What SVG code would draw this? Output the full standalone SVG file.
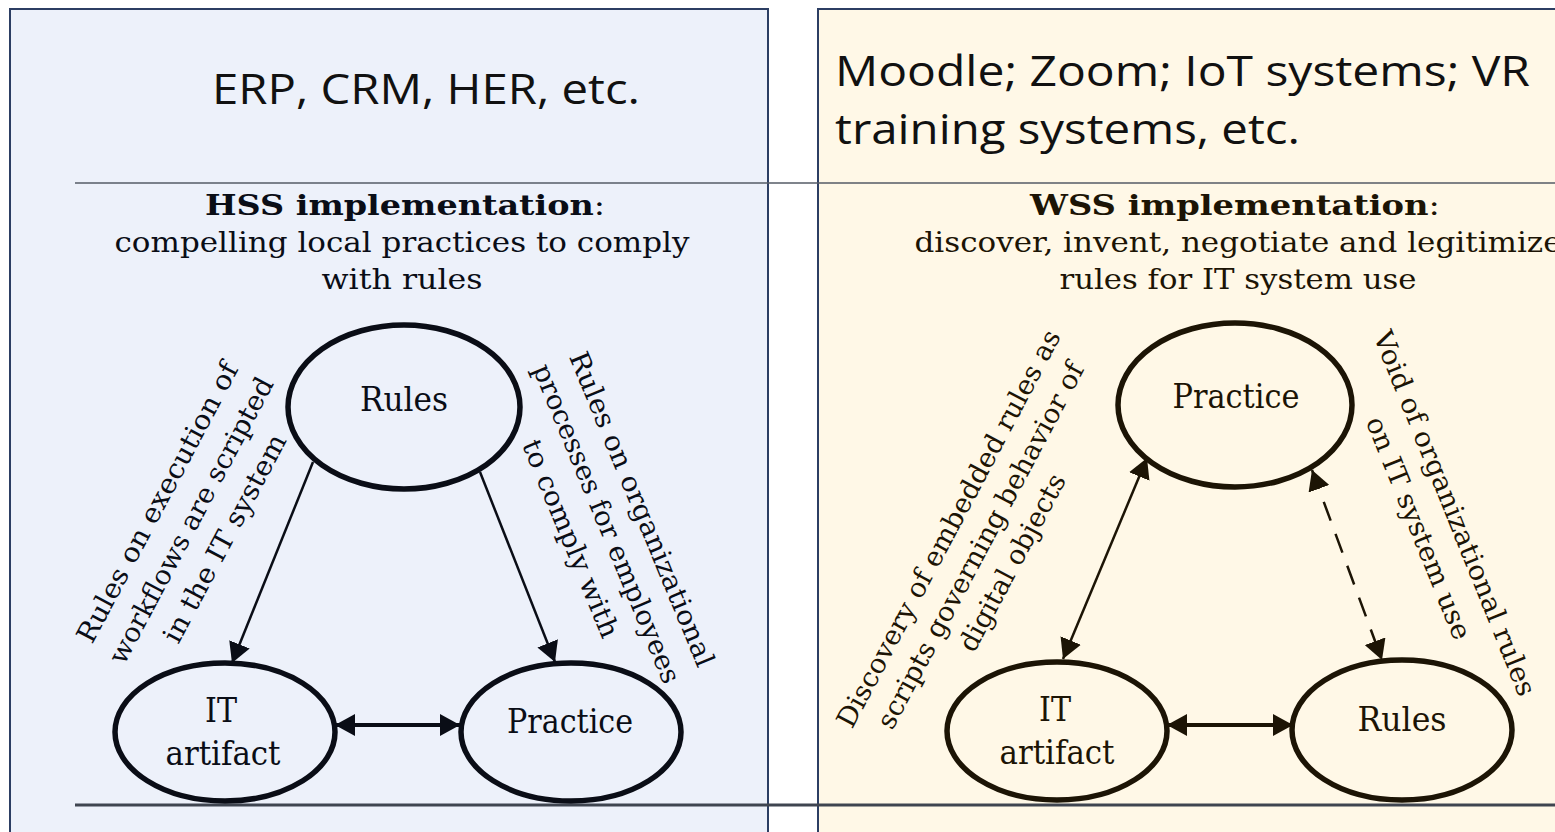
<svg xmlns="http://www.w3.org/2000/svg" width="1555" height="832" viewBox="0 0 1555 832">
  <defs>
    <marker id="headA" markerUnits="userSpaceOnUse" viewBox="0 0 22 22" markerWidth="22" markerHeight="22" refX="20" refY="11" orient="auto-start-reverse">
      <path d="M0,0 L20,11 L0,22 Z" fill="#0a0d16"/>
    </marker>
    <marker id="headB" markerUnits="userSpaceOnUse" viewBox="0 0 22 22" markerWidth="22" markerHeight="22" refX="20" refY="11" orient="auto-start-reverse">
      <path d="M0,0 L20,11 L0,22 Z" fill="#1c1405"/>
    </marker>
  </defs>
  <style>
    .panelA{fill:#edf1fa;stroke:#2c3e63;stroke-width:2}
    .panelB{fill:#fff8e7;stroke:#2c3e63;stroke-width:2}
    .sys{font-family:"Open Sans","Liberation Sans",sans-serif;font-size:42px;fill:#111}
    .hd{font-family:"DejaVu Serif","Liberation Serif",serif;font-size:28px;text-anchor:middle}
    .bold{font-weight:bold}
    .lbl{font-family:"DejaVu Serif","Liberation Serif",serif;font-size:27px;text-anchor:middle}
    .nt{font-family:"DejaVu Serif","Liberation Serif",serif;font-size:33px;text-anchor:middle}
    .inkA{fill:#0a0d16}
    .inkB{fill:#1c1405}
    .nodeA{fill:none;stroke:#0a0d16;stroke-width:5.5}
    .nodeB{fill:none;stroke:#1c1405;stroke-width:5.5}
    .edgeA{fill:none;stroke:#0a0d16;stroke-width:2.5}
    .edgeB{fill:none;stroke:#1c1405;stroke-width:2.5}
    .thick{stroke-width:4}
    .dash{stroke-dasharray:20 14}
    .rule{stroke:#555b66;stroke-width:1.5}
    .rule2{stroke:#3f4550;stroke-width:3}
  </style>

  <!-- panels -->
  <rect class="panelA" x="10" y="9" width="758" height="840"/>
  <rect class="panelB" x="818" y="9" width="760" height="840"/>

  <!-- system examples -->
  <text class="sys" x="426" y="104" text-anchor="middle" textLength="428" lengthAdjust="spacingAndGlyphs">ERP, CRM, HER, etc.</text>
  <text class="sys" x="835" y="86" textLength="695" lengthAdjust="spacingAndGlyphs">Moodle; Zoom; IoT systems; VR</text>
  <text class="sys" x="835" y="144" textLength="465" lengthAdjust="spacingAndGlyphs">training systems, etc.</text>

  <!-- separators -->
  <line class="rule" x1="75" y1="183" x2="1555" y2="183"/>
  <line class="rule2" x1="75" y1="805" x2="1555" y2="805"/>

  <!-- headings -->
  <g class="hd inkA">
    <text x="405" y="215" textLength="400" lengthAdjust="spacingAndGlyphs"><tspan class="bold">HSS implementation</tspan>:</text>
    <text x="402" y="252" textLength="575" lengthAdjust="spacingAndGlyphs">compelling local practices to comply</text>
    <text x="402" y="289" textLength="161" lengthAdjust="spacingAndGlyphs">with rules</text>
  </g>
  <g class="hd inkB">
    <text x="1235" y="215" textLength="410" lengthAdjust="spacingAndGlyphs"><tspan class="bold">WSS implementation</tspan>:</text>
    <text x="1238" y="252" textLength="647" lengthAdjust="spacingAndGlyphs">discover, invent, negotiate and legitimize</text>
    <text x="1238" y="289" textLength="357" lengthAdjust="spacingAndGlyphs">rules for IT system use</text>
  </g>

  <!-- connectors -->
  <g id="connectors">
    <line class="edgeA" x1="313" y1="462" x2="232" y2="663" marker-end="url(#headA)"/>
    <line class="edgeA" x1="480" y1="472" x2="555" y2="662" marker-end="url(#headA)"/>
    <line class="edgeA thick" x1="335" y1="725" x2="460" y2="725" marker-start="url(#headA)" marker-end="url(#headA)"/>
    <line class="edgeB" x1="1147" y1="458" x2="1063" y2="659" marker-start="url(#headB)" marker-end="url(#headB)"/>
    <line class="edgeB dash" x1="1312" y1="470" x2="1382" y2="660" marker-start="url(#headB)" marker-end="url(#headB)"/>
    <line class="edgeB thick" x1="1167" y1="725" x2="1293" y2="725" marker-start="url(#headB)" marker-end="url(#headB)"/>
  </g>

  <!-- connector labels -->
  <g class="lbl inkA" transform="translate(192,521) rotate(-62)">
    <text x="0" y="-30" textLength="313" lengthAdjust="spacingAndGlyphs">Rules on execution of</text>
    <text x="0" y="8" textLength="320" lengthAdjust="spacingAndGlyphs">workflows are scripted</text>
    <text x="0" y="46" textLength="232" lengthAdjust="spacingAndGlyphs">in the IT system</text>
  </g>
  <g class="lbl inkA" transform="translate(601,526) rotate(67.5)">
    <text x="0" y="-35" textLength="338" lengthAdjust="spacingAndGlyphs">Rules on organizational</text>
    <text x="0" y="3" textLength="343" lengthAdjust="spacingAndGlyphs">processes for employees</text>
    <text x="0" y="42" textLength="212" lengthAdjust="spacingAndGlyphs">to comply with</text>
  </g>
  <g class="lbl inkB" transform="translate(985,548) rotate(-62)">
    <text x="0" y="-32" textLength="446" lengthAdjust="spacingAndGlyphs">Discovery of embedded rules as</text>
    <text x="0" y="4" textLength="410" lengthAdjust="spacingAndGlyphs">scripts governing behavior of</text>
    <text x="0" y="40" textLength="197" lengthAdjust="spacingAndGlyphs">digital objects</text>
  </g>
  <g class="lbl inkB" transform="translate(1436,521) rotate(68)">
    <text x="0" y="-11" textLength="391" lengthAdjust="spacingAndGlyphs">Void of organizational rules</text>
    <text x="0" y="28" textLength="238" lengthAdjust="spacingAndGlyphs">on IT system use</text>
  </g>

  <!-- HSS nodes -->
  <g id="hss-rules">
    <ellipse class="nodeA" cx="404" cy="407" rx="116" ry="82"/>
    <text class="nt inkA" x="404" y="411" textLength="88" lengthAdjust="spacingAndGlyphs">Rules</text>
  </g>
  <g id="hss-it">
    <ellipse class="nodeA" cx="225" cy="732" rx="110" ry="69"/>
    <text class="nt inkA" x="221" y="722" textLength="32" lengthAdjust="spacingAndGlyphs">IT</text>
    <text class="nt inkA" x="223" y="765" textLength="115" lengthAdjust="spacingAndGlyphs">artifact</text>
  </g>
  <g id="hss-practice">
    <ellipse class="nodeA" cx="571" cy="732" rx="110" ry="69"/>
    <text class="nt inkA" x="570" y="733" textLength="126" lengthAdjust="spacingAndGlyphs">Practice</text>
  </g>

  <!-- WSS nodes -->
  <g id="wss-practice">
    <ellipse class="nodeB" cx="1235" cy="405" rx="117" ry="82"/>
    <text class="nt inkB" x="1236" y="408" textLength="127" lengthAdjust="spacingAndGlyphs">Practice</text>
  </g>
  <g id="wss-it">
    <ellipse class="nodeB" cx="1057" cy="731" rx="110" ry="69"/>
    <text class="nt inkB" x="1055" y="721" textLength="32" lengthAdjust="spacingAndGlyphs">IT</text>
    <text class="nt inkB" x="1057" y="764" textLength="115" lengthAdjust="spacingAndGlyphs">artifact</text>
  </g>
  <g id="wss-rules">
    <ellipse class="nodeB" cx="1402" cy="730" rx="110" ry="70"/>
    <text class="nt inkB" x="1402" y="731" textLength="89" lengthAdjust="spacingAndGlyphs">Rules</text>
  </g>
</svg>
